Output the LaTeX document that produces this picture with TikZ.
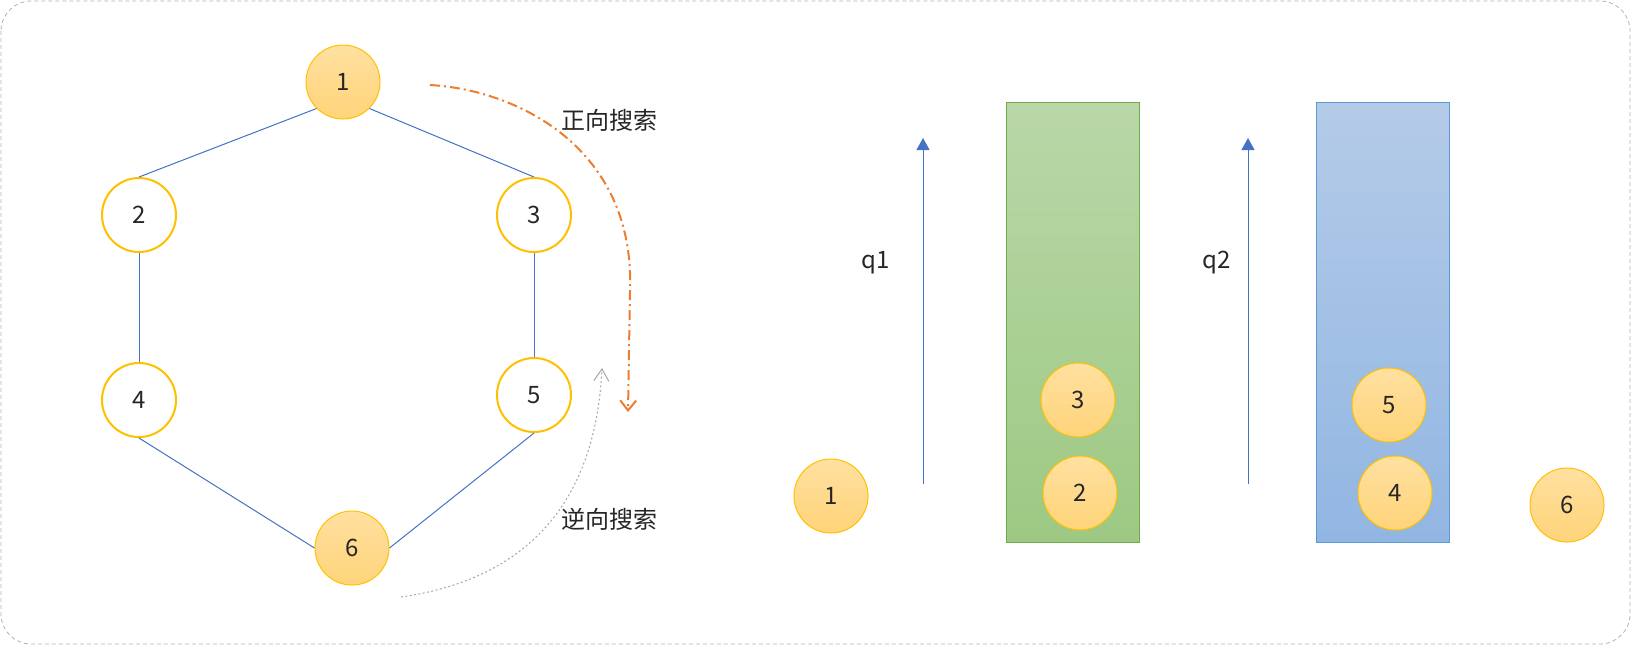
\documentclass[tikz,border=0pt]{standalone}
\usepackage{fontspec}
\setmainfont{Noto Sans CJK SC}
\usepackage{tikz}
\usetikzlibrary{arrows.meta}

\definecolor{edgeblue}{RGB}{68,114,196}
\definecolor{ringgold}{RGB}{255,192,0}
\definecolor{balltop}{RGB}{255,224,160}
\definecolor{ballbot}{RGB}{255,212,122}
\definecolor{fwdorange}{RGB}{237,125,49}
\definecolor{greentop}{RGB}{185,215,168}
\definecolor{greenbot}{RGB}{157,201,131}
\definecolor{greenline}{RGB}{112,173,71}
\definecolor{bluetop}{RGB}{180,203,232}
\definecolor{bluebot}{RGB}{145,182,226}
\definecolor{blueline}{RGB}{91,155,213}

\begin{document}
\begin{tikzpicture}[x=0.5pt, y=-0.5pt,
  every node/.style={font=\fontsize{12}{14}\selectfont, text=black!85},
  vtx/.style={circle, draw=ringgold, line width=1pt, fill=white, minimum size=37pt, inner sep=0pt},
  ball/.style={circle, draw=ringgold, line width=0.5pt, top color=balltop, bottom color=ballbot, minimum size=37pt, inner sep=0pt},
  link/.style={draw=edgeblue, line width=0.5pt},
  stackbox/.style={rectangle, line width=0.5pt, minimum width=66.5pt, minimum height=220pt, inner sep=0pt},
  qarrow/.style={draw=edgeblue, line width=0.5pt, -{Triangle[width=6.5pt, length=6pt]}, edgeblue}]
  \useasboundingbox (0,0) rectangle (1631,645);
  % cadre
  \draw[gray!60, dash pattern=on 2pt off 1.5pt, rounded corners=15pt] (1,1) rectangle (1630,644);
  % graphe
  \node[ball] (n1) at (343,82) {1};
  \node[vtx]  (n2) at (139,215) {2};
  \node[vtx]  (n3) at (534,215) {3};
  \node[vtx]  (n4) at (139,400) {4};
  \node[vtx]  (n5) at (534,395) {5};
  \node[ball] (n6) at (352,548) {6};
  \draw[link] (n1.south west) -- (n2.north);
  \draw[link] (n1.south east) -- (n3.north);
  \draw[link] (n2.south) -- (n4.north);
  \draw[link] (n3.south) -- (n5.north);
  \draw[link] (n4.south) -- (n6.west);
  \draw[link] (n5.south) -- (n6.east);
  % recherche avant / arriere
  \coordinate (fwdA) at (430,85);
  \coordinate (fwdB) at (628,412);
  \draw[fwdorange, line width=1pt, dash pattern=on 5pt off 2pt on 1pt off 2pt,
        -{Straight Barb[width=8pt, length=5pt, line width=1pt]}]
    (fwdA) .. controls (520,90) and (635,150) .. (630,290) -- (fwdB);
  \node (fwdlbl) at (609,120) {正向搜索};
  \coordinate (bwdA) at (401,597);
  \coordinate (bwdB) at (602,368);
  \draw[gray!70, line width=0.5pt, dash pattern=on 1pt off 1.2pt,
        -{Straight Barb[width=7.5pt, length=6pt, line width=0.5pt]}]
    (bwdA) .. controls (520,580) and (595,510) .. (bwdB);
  \node (bwdlbl) at (609,519) {逆向搜索};
  % file q1
  \node[stackbox, draw=greenline, top color=greentop, bottom color=greenbot] (stackA) at (1072.5,322) {};
  \node[ball] (a1) at (831,496) {1};
  \node[ball] (a3) at (1078,400) {3};
  \node[ball] (a2) at (1080,493) {2};
  \coordinate (q1bot) at (923,484);
  \coordinate (q1top) at (923,138);
  \draw[qarrow] (q1bot) -- (q1top);
  \node (q1lbl) at (876,263) {q1};
  % file q2
  \node[stackbox, draw=blueline, top color=bluetop, bottom color=bluebot] (stackB) at (1383,322) {};
  \node[ball] (b5) at (1389,405) {5};
  \node[ball] (b4) at (1395,493) {4};
  \node[ball] (b6) at (1567,505) {6};
  \coordinate (q2bot) at (1248,484);
  \coordinate (q2top) at (1248,138);
  \draw[qarrow] (q2bot) -- (q2top);
  \node (q2lbl) at (1217,263) {q2};
\end{tikzpicture}
\end{document}
